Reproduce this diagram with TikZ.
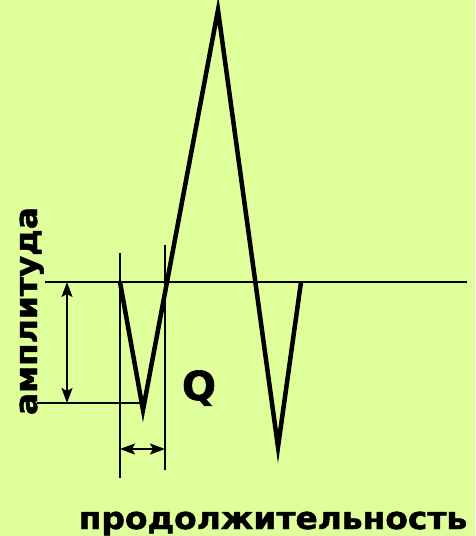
\documentclass[tikz,border=0pt]{standalone}
\usepackage{fontspec}
\setmainfont{DejaVu Sans}
\newfontfamily\heavyfont{DejaVu Sans Bold}[FakeBold=1.5]
\usetikzlibrary{arrows.meta, positioning}
\definecolor{bgyellow}{RGB}{222,255,153}

\begin{document}
\begin{tikzpicture}[
  x=1pt, y=-1pt,
  wave/.style={line width=4.5pt, line join=miter},
  guide/.style={line width=2pt},
  dimarrow/.style={{Stealth[length=15pt,width=11pt,inset=3pt]}-{Stealth[length=15pt,width=11pt,inset=3pt]}, line width=2pt},
  label/.style={font=\heavyfont\fontsize{31}{31}\selectfont, inner sep=0pt, anchor=base},
  bigq/.style={font=\heavyfont\fontsize{40}{40}\selectfont, inner sep=0pt, anchor=base}
]
\fill[bgyellow] (0,0) rectangle (475,536);
\useasboundingbox (0,0) rectangle (475,536);

% ---- waveform points ----
\coordinate (start) at (120,282);
\coordinate (qdip)  at (143,410);
\coordinate (peak)  at (218,10);
\coordinate (sdip)  at (278,447);
\coordinate (stop)  at (301,282);

% ---- guide lines ----
\coordinate (base_l) at (45,282);
\coordinate (base_r) at (467,282);
\coordinate (low_l)  at (37,403);
\coordinate (low_r)  at (141,403);
\coordinate (vl_top) at (120,253);
\coordinate (vl_bot) at (120,478);
\coordinate (vr_top) at (165,245);
\coordinate (vr_bot) at (165,470);

\draw[guide] (base_l) -- (base_r);
\draw[guide] (low_l)  -- (low_r);
\draw[guide] (vl_top) -- (vl_bot);
\draw[guide] (vr_top) -- (vr_bot);

\draw[wave] (start) -- (qdip) -- (peak) -- (sdip) -- (stop);

% ---- dimension arrows ----
\coordinate (amp_top) at (67,282);
\coordinate (amp_bot) at (67,403);
\coordinate (dur_l)   at (120,449);
\coordinate (dur_r)   at (165,449);

\draw[dimarrow] (amp_top) -- (amp_bot);
\draw[dimarrow] (dur_l)   -- (dur_r);

% ---- labels ----
\node[bigq] (qlabel) at (199,400) {Q};
\node[label, rotate=90] (amplabel) at (37,311) {\scalebox{1.06}[1]{амплитуда}};
\node[label] (durlabel) at (273,529) {\scalebox{1.06}[1]{продолжительность}};

\end{tikzpicture}
\end{document}
